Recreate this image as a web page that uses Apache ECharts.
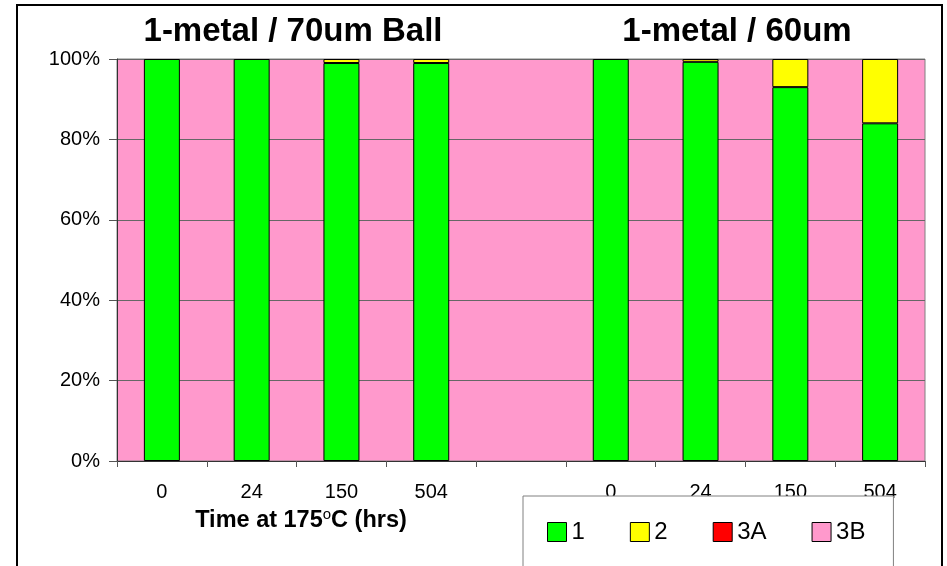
<!DOCTYPE html>
<html>
<head>
<meta charset="utf-8">
<script src="https://cdn.jsdelivr.net/npm/echarts@6/dist/echarts.min.js"></script>
<style>html,body{margin:0;padding:0;background:#fff;}#c{width:947px;height:566px;}</style>
</head>
<body>
<div id="c"></div>
<script>
const categories = ['0', '24', '150', '504', '', '0', '24', '150', '504'];
const s1  = [100, 100, 99, 99, null, 100, 99.3, 93, 84];
const s2  = [null, null, 1, 1, null, null, 0.7, 7, 16];
const s3A = [null, null, null, null, null, null, null, null, null];
const s3B = [null, null, null, null, null, null, null, null, null];
const yTicks = [0, 20, 40, 60, 80, 100];
const groupTitles = ['1-metal / 70um Ball', '1-metal / 60um'];

const FF = "'Liberation Sans', Arial, sans-serif";
const chart = echarts.init(document.getElementById('c'));
const barStyle = (color) => ({ color: color, borderColor: '#000', borderWidth: 1 });
function mk(name, data, color) {
  return { name: name, type: 'bar', stack: 't', data: data, barWidth: 36,
           itemStyle: barStyle(color), emphasis: { disabled: true } };
}
chart.setOption({
  animation: false,
  grid: { left: 117, right: 22, top: 59, bottom: 105, show: true,
          backgroundColor: '#FF99CC', borderColor: '#808080', borderWidth: 1 },
  xAxis: {
    type: 'category', data: categories, boundaryGap: true,
    axisLine: { lineStyle: { color: '#333', width: 1 } },
    axisTick: { show: true, length: 6, interval: 0, lineStyle: { color: '#555' } },
    axisLabel: { fontFamily: FF, fontSize: 20, color: '#000', margin: 21, interval: 0 },
    splitLine: { show: false }
  },
  yAxis: {
    type: 'value', min: 0, max: 100, interval: 20,
    axisLine: { show: true, lineStyle: { color: '#333', width: 1 } },
    axisTick: { show: true, length: 8, lineStyle: { color: '#555' } },
    axisLabel: { fontFamily: FF, fontSize: 20, color: '#000', margin: 17,
                 formatter: (v) => yTicks.indexOf(v) >= 0 ? v + '%' : '' },
    splitLine: { show: true, lineStyle: { color: '#666', width: 1 } }
  },
  legend: {
    left: 523, top: 496, orient: 'horizontal',
    padding: [24, 28, 60, 24], itemGap: 45,
    itemWidth: 19, itemHeight: 19, icon: 'rect',
    backgroundColor: '#fff', borderColor: '#808080', borderWidth: 1,
    textStyle: { fontFamily: FF, fontSize: 24, color: '#000', padding: [2, 0, 0, 0] },
    itemStyle: { borderColor: '#000', borderWidth: 1 },
    data: ['1', '2', '3A', '3B'], z: 10
  },
  series: [
    mk('1', s1, '#00FF00'),
    mk('2', s2, '#FFFF00'),
    mk('3A', s3A, '#FF0000'),
    mk('3B', s3B, '#FF99CC')
  ],
  graphic: [
    { type: 'rect', shape: { x: 17, y: 5, width: 925, height: 620 },
      style: { fill: null, stroke: '#000', lineWidth: 2 }, silent: true, z: 100 },
    { type: 'text', x: 293, y: 32, style: { text: groupTitles[0], fontFamily: FF, fontSize: 33,
      fontWeight: 'bold', fill: '#000', align: 'center', verticalAlign: 'middle' } },
    { type: 'text', x: 737, y: 32, style: { text: groupTitles[1], fontFamily: FF, fontSize: 33,
      fontWeight: 'bold', fill: '#000', align: 'center', verticalAlign: 'middle' } },
    { type: 'text', x: 301, y: 521, style: {
      text: '{a|Time at 175}{s|o}{a|C (hrs)}', align: 'center', verticalAlign: 'middle',
      rich: {
        a: { fontFamily: FF, fontSize: 23.5, fontWeight: 'bold', fill: '#000', color: '#000' },
        s: { fontFamily: FF, fontSize: 15, fontWeight: 'normal', color: '#000', padding: [0, 0, 12, 0] }
      } } }
  ]
});
</script>
</body>
</html>
